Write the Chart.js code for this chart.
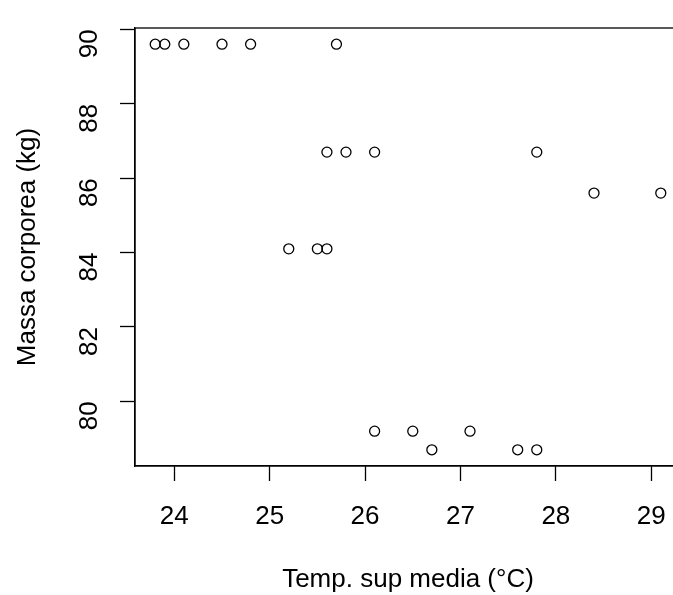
<!DOCTYPE html>
<html>
<head>
<meta charset="utf-8">
<script src="https://cdn.jsdelivr.net/npm/chart.js"></script>
<style>
  html, body { margin: 0; padding: 0; background: #fff; overflow: hidden; }
  #wrap { width: 673px; height: 595px; overflow: hidden; }
</style>
</head>
<body>
<div id="wrap"><canvas id="scatter" width="690" height="595"></canvas></div>
<script>
// Temp. sup media (°C) vs Massa corporea (kg)
const tempSup = [23.8, 23.9, 24.1, 24.5, 24.8, 25.7,
                 25.6, 25.8, 26.1, 27.8,
                 28.4, 29.1,
                 25.2, 25.5, 25.6,
                 26.1, 26.5, 27.1,
                 26.7, 27.6, 27.8];
const massa = [89.6, 89.6, 89.6, 89.6, 89.6, 89.6,
               86.7, 86.7, 86.7, 86.7,
               85.6, 85.6,
               84.1, 84.1, 84.1,
               79.2, 79.2, 79.2,
               78.7, 78.7, 78.7];
const xTicks = [24, 25, 26, 27, 28, 29];
const yTicks = [80, 82, 84, 86, 88, 90];

const points = tempSup.map((x, i) => ({ x: x, y: massa[i] }));

// R style range: data range extended by 4%
function pad(arr) {
    const lo = Math.min(...arr), hi = Math.max(...arr);
    const d = (hi - lo) * 0.04;
    return [lo - d, hi + d];
}
const xr = pad(tempSup);
const yr = pad(massa);

const font = { family: '"Liberation Sans", Arial, sans-serif', size: 26 };

const boxPlugin = {
    id: 'box',
    afterDraw(chart) {
        const a = chart.chartArea, ctx = chart.ctx;
        ctx.save();
        ctx.strokeStyle = '#000';
        ctx.lineWidth = 1.3;
        ctx.strokeRect(a.left, a.top, a.right - a.left, a.bottom - a.top);
        ctx.restore();
    }
};

new Chart(document.getElementById('scatter'), {
    type: 'scatter',
    data: {
        datasets: [{
            data: points,
            pointStyle: 'circle',
            pointRadius: 5,
            pointHoverRadius: 5,
            backgroundColor: 'rgba(0,0,0,0)',
            borderColor: '#000',
            borderWidth: 1.3
        }]
    },
    options: {
        responsive: false,
        animation: false,
        devicePixelRatio: 1,
        layout: { padding: { top: 28, right: 9, left: 0, bottom: 0 } },
        plugins: { legend: { display: false }, tooltip: { enabled: false } },
        scales: {
            x: {
                type: 'linear',
                min: xr[0],
                max: xr[1],
                afterBuildTicks: s => { s.ticks = xTicks.map(v => ({ value: v })); },
                afterFit: s => { s.height = 129; s.paddingLeft = 0; s.paddingRight = 0; },
                grid: { drawOnChartArea: false, drawTicks: true, tickLength: 15, tickColor: '#000', tickWidth: 1.3 },
                border: { display: true, color: '#000', width: 1.3 },
                ticks: { color: '#000', font: font, padding: 20, maxRotation: 0, autoSkip: false },
                title: { display: true, text: 'Temp. sup media (°C)', color: '#000', font: font, padding: { top: 0, bottom: 0 } }
            },
            y: {
                type: 'linear',
                min: yr[0],
                max: yr[1],
                afterBuildTicks: s => { s.ticks = yTicks.map(v => ({ value: v })); },
                afterFit: s => { s.width = 135; s.paddingTop = 0; s.paddingBottom = 0; },
                grid: { drawOnChartArea: false, drawTicks: true, tickLength: 15, tickColor: '#000', tickWidth: 1.3 },
                border: { display: true, color: '#000', width: 1.3 },
                ticks: { color: '#000', font: font, padding: 30, minRotation: 90, maxRotation: 90, autoSkip: false },
                title: { display: true, text: 'Massa corporea (kg)', color: '#000', font: font, padding: { top: 12, bottom: 0 } }
            }
        }
    },
    plugins: [boxPlugin]
});
</script>
</body>
</html>
